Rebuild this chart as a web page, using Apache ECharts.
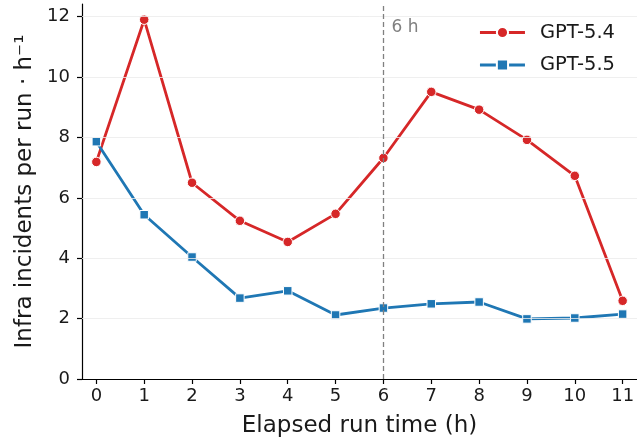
<!DOCTYPE html>
<html>
<head>
<meta charset="utf-8">
<style>
  html, body { margin: 0; padding: 0; background: #fff; }
  #chart { width: 637px; height: 440px; }
</style>
<script src="https://cdn.jsdelivr.net/npm/echarts@6/dist/echarts.min.js"></script>
</head>
<body>
<div id="chart"></div>
<script>
  // elapsed hours and incidents per run per hour
  const hours = [0, 1, 2, 3, 4, 5, 6, 7, 8, 9, 10, 11];
  const gpt54 = [7.19, 11.9, 6.5, 5.24, 4.54, 5.47, 7.32, 9.51, 8.92, 7.92, 6.73, 2.59];
  const gpt55 = [7.86, 5.44, 4.04, 2.68, 2.92, 2.12, 2.35, 2.49, 2.55, 1.99, 2.02, 2.15];
  const yTicks = [0, 2, 4, 6, 8, 10, 12];
  const markerHour = 6;

  const font = "DejaVu Sans";
  const ink = "#1a1a1a";
  const myChart = echarts.init(document.getElementById("chart"));

  const pairs = (vals) => hours.map((h, i) => [h, vals[i]]);

  const option = {
    animation: false,
    grid: { left: 82, right: 0, top: 4, bottom: 61, outerBoundsMode: "none" },
    legend: {
      right: 17,
      top: 17,
      orient: "vertical",
      itemWidth: 45,
      itemHeight: 14,
      itemGap: 11.5,
      lineStyle: { width: 3 },
      textStyle: {
        fontFamily: font,
        fontSize: 19.5,
        color: ink,
        lineHeight: 21,
        padding: [0, 0, 0, 10],
      },
      data: ["GPT-5.4", "GPT-5.5"],
    },
    xAxis: {
      type: "value",
      min: -0.3,
      max: 11.3,
      name: "Elapsed run time (h)",
      nameLocation: "middle",
      nameGap: 36,
      nameTextStyle: { fontFamily: font, fontSize: 23, color: ink },
      axisLine: { show: true, onZero: false, lineStyle: { color: "#000", width: 1.2 } },
      axisTick: {
        show: true,
        length: 5,
        customValues: hours,
        lineStyle: { color: "#000", width: 1.2 },
      },
      axisLabel: {
        customValues: hours,
        fontFamily: font,
        fontSize: 18,
        color: ink,
        margin: 8,
      },
      splitLine: { show: false },
    },
    yAxis: {
      type: "value",
      min: 0,
      max: 12.42,
      name: "Infra incidents per run · h⁻¹",
      nameLocation: "middle",
      nameGap: 44,
      nameTextStyle: { fontFamily: font, fontSize: 23, color: ink },
      axisLine: { show: true, onZero: false, lineStyle: { color: "#000", width: 1.2 } },
      axisTick: {
        show: true,
        length: 5,
        customValues: yTicks,
        lineStyle: { color: "#000", width: 1.2 },
      },
      axisLabel: {
        customValues: yTicks,
        fontFamily: font,
        fontSize: 18,
        color: ink,
        margin: 12,
      },
      splitLine: { show: false },
    },
    series: [
      {
        // horizontal light grid at the y ticks
        type: "line",
        data: [],
        silent: true,
        markLine: {
          silent: true,
          symbol: "none",
          label: { show: false },
          lineStyle: { color: "#ebebeb", width: 0.8, type: "solid" },
          data: yTicks.slice(1).map((v) => ({ yAxis: v })),
        },
      },
      {
        name: "GPT-5.4",
        type: "line",
        data: pairs(gpt54),
        symbol: "circle",
        symbolSize: 9.5,
        lineStyle: { color: "#d62728", width: 2.8 },
        itemStyle: { color: "#d62728", borderColor: "#fff", borderWidth: 1 },
        z: 3,
        markLine: {
          silent: true,
          symbol: "none",
          lineStyle: { color: "#808080", width: 1.3, type: [5, 3] },
          label: { show: false },
          data: [{ xAxis: markerHour }],
        },
        markPoint: {
          silent: true,
          symbol: "circle",
          symbolSize: 0,
          label: {
            show: true,
            position: "right",
            distance: 8,
            formatter: "6 h",
            fontFamily: font,
            fontSize: 17,
            color: "#808080",
          },
          data: [{ coord: [markerHour, 11.63] }],
        },
      },
      {
        name: "GPT-5.5",
        type: "line",
        data: pairs(gpt55),
        symbol: "rect",
        symbolSize: 8.5,
        lineStyle: { color: "#1f77b4", width: 2.8 },
        itemStyle: { color: "#1f77b4", borderColor: "#fff", borderWidth: 1 },
        z: 3,
      },
    ],
  };

  option && myChart.setOption(option);
</script>
</body>
</html>
